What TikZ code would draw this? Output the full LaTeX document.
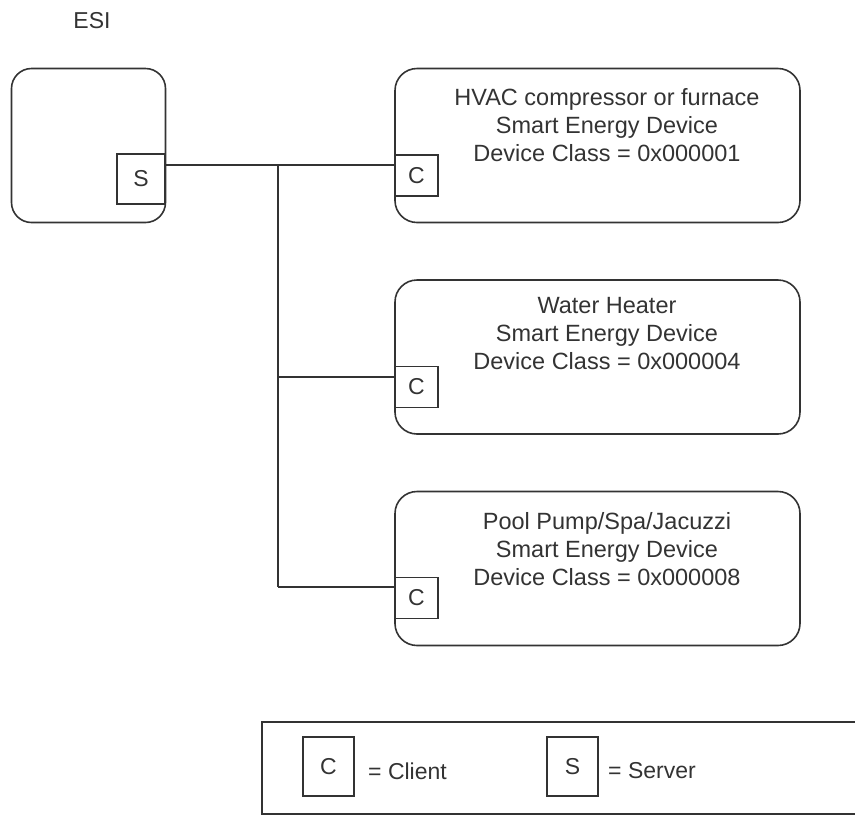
\documentclass[tikz,border=0pt]{standalone}
\usepackage{fontspec}
\setmainfont{Liberation Sans}
\definecolor{ink}{HTML}{333333}
\begin{document}
\begin{tikzpicture}[x=1pt,y=-1pt,
  every node/.style={text=ink},
  line/.style={draw=ink,line width=1.6pt},
  devbox/.style={draw=ink,line width=1.6pt,rounded corners=22pt,minimum width=405pt,minimum height=154pt,inner sep=0pt},
  esibox/.style={draw=ink,line width=1.6pt,rounded corners=20pt,minimum width=154pt,minimum height=154pt,inner sep=0pt},
  port/.style={draw=ink,line width=1.6pt,minimum width=43pt,minimum height=41pt,inner sep=0pt,font=\fontsize{23}{27}\selectfont},
  legport/.style={draw=ink,line width=1.6pt,minimum width=51pt,minimum height=59pt,inner sep=0pt,font=\fontsize{23}{27}\selectfont},
  lbl/.style={font=\fontsize{23.5}{28}\selectfont,align=center,inner sep=0pt},
  txt/.style={font=\fontsize{23}{27}\selectfont,inner sep=0pt}]
\useasboundingbox (0,0) rectangle (855,815);
% ESI
\node[txt] (esilabel) at (92,21) {ESI};
\node[esibox] (esi) at (88.5,145.5) {};
\node[port,minimum width=48pt,minimum height=50pt] (s) at (141,179) {S};
% devices
\node[devbox] (hvac) at (597.5,145.5) {};
\node[lbl] (hvact) at (607,125) {HVAC compressor or furnace\\Smart Energy Device\\Device Class = 0x000001};
\node[port] (c1) at (416.5,175.5) {C};
\node[devbox] (wh) at (597.5,357) {};
\node[lbl] (wht) at (607,334) {Water Heater\\Smart Energy Device\\Device Class = 0x000004};
\node[port] (c2) at (416.5,387) {C};
\node[devbox] (pool) at (597.5,568.5) {};
\node[lbl] (poolt) at (607,549) {Pool Pump/Spa/Jacuzzi\\Smart Energy Device\\Device Class = 0x000008};
\node[port] (c3) at (416.5,598) {C};
% connectors
\coordinate (j1) at (278,165);
\coordinate (j2) at (278,377);
\coordinate (j3) at (278,587);
\draw[line] (s.east |- j1) -- (c1.west |- j1);
\draw[line] (j1) -- (j3);
\draw[line] (j2) -- (c2.west |- j2);
\draw[line] (j3) -- (c3.west |- j3);
% legend
\draw[line] (862,722) -- (262,722) -- (262,814) -- (862,814);
\node[legport] (lc) at (328.5,766.5) {C};
\node[txt,anchor=west] (lct) at (368,771) {= Client};
\node[legport] (ls) at (572.5,766.5) {S};
\node[txt,anchor=west] (lst) at (608,771) {= Server};
\end{tikzpicture}
\end{document}
